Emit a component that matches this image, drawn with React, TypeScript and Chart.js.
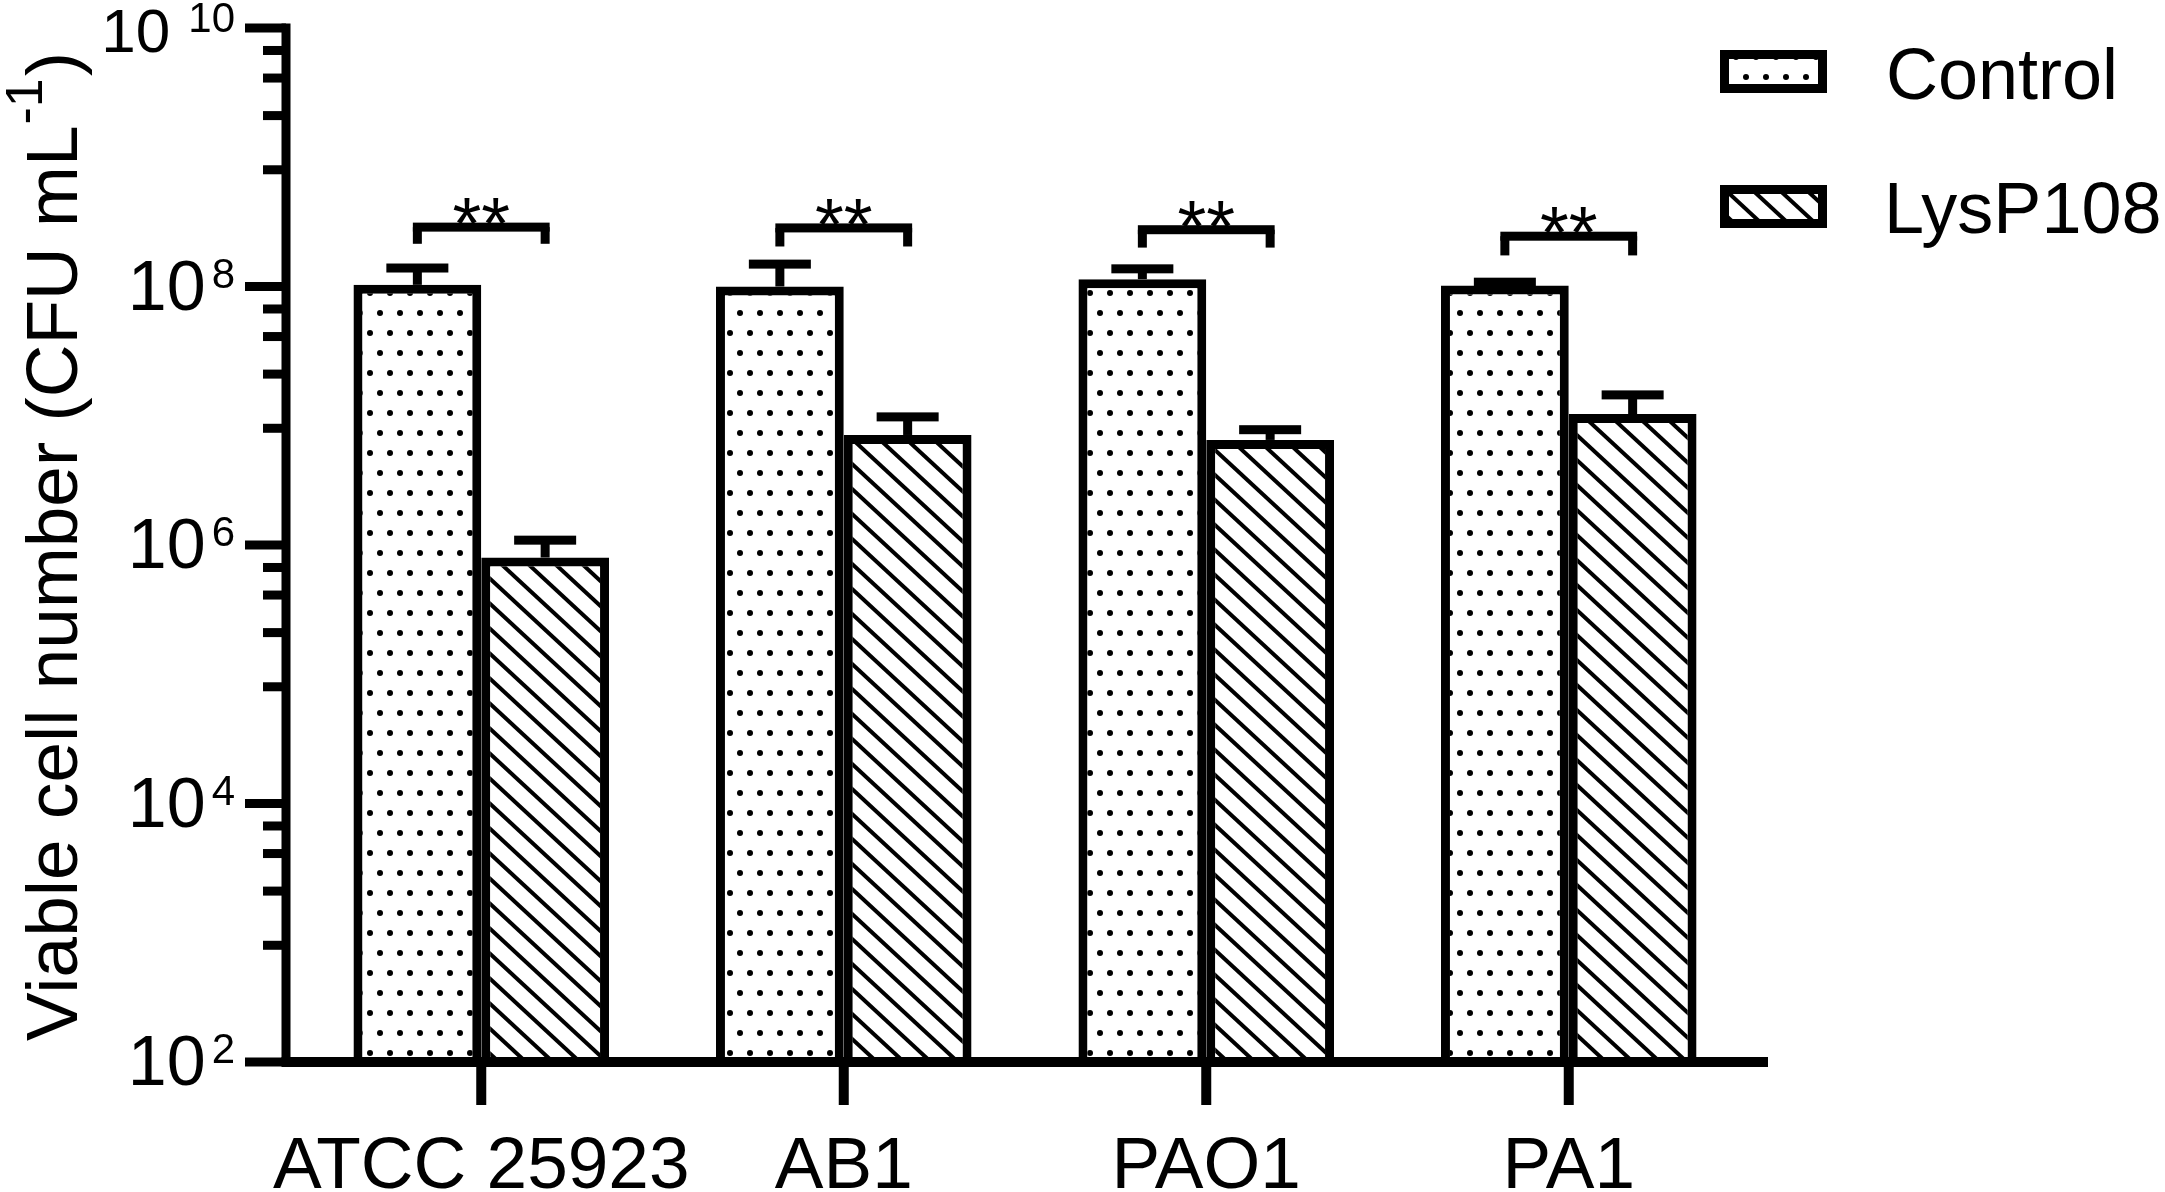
import { useEffect, useRef } from 'react';
import { Chart, type Plugin } from 'chart.js/auto';

const W = 2165;
const H = 1192;
const FAMILY = '"Liberation Sans", Arial, Helvetica, sans-serif';
const font = (px: number) => `${px}px ${FAMILY}`;

// values (CFU per mL)
const categories = ['ATCC 25923', 'AB1', 'PAO1', 'PA1'];
const controlMean = [1.03e8, 1.0e8, 1.14e8, 1.02e8];
const controlSD = [0.36e8, 0.49e8, 0.23e8, 0.06e8];
const lysMean = [8.0e5, 7.1e6, 6.5e6, 1.03e7];
const lysSD = [2.9e5, 2.7e6, 1.3e6, 4.2e6];

// significance brackets: top line and bottom of the legs
const bracketTop = [2.88e8, 2.84e8, 2.75e8, 2.45e8];
const bracketLeg = [2.14e8, 2.04e8, 2.0e8, 1.74e8];
const bracketText = ['**', '**', '**', '**'];

const majorTicks = [1e2, 1e4, 1e6, 1e8, 1e10];
const minorTickFactors = [0.67, 0.41, 0.21, 0.08];

const seriesNames = ['Control', 'LysP108'];

function makeDots(): CanvasPattern | string {
  const c = document.createElement('canvas');
  c.width = 20;
  c.height = 40;
  const g = c.getContext('2d');
  if (!g) return '#fff';
  g.fillStyle = '#fff';
  g.fillRect(0, 0, 20, 40);
  g.fillStyle = '#000';
  for (const [x, y] of [[10, 13], [0, 33], [20, 33]]) {
    g.beginPath();
    g.arc(x, y, 3, 0, Math.PI * 2);
    g.fill();
  }
  return g.createPattern(c, 'repeat') ?? '#fff';
}

function makeHatch(): CanvasPattern | string {
  const w = 27;
  const h = 25;
  const c = document.createElement('canvas');
  c.width = w;
  c.height = h;
  const g = c.getContext('2d');
  if (!g) return '#fff';
  g.fillStyle = '#fff';
  g.fillRect(0, 0, w, h);
  g.strokeStyle = '#000';
  g.lineWidth = 4;
  for (const k of [-1, 0, 1]) {
    g.beginPath();
    g.moveTo(k * w - w * 0.5, -h * 0.5);
    g.lineTo(k * w + w * 1.5, h * 1.5);
    g.stroke();
  }
  return g.createPattern(c, 'repeat') ?? '#fff';
}

export default function App() {
  const canvasRef = useRef<HTMLCanvasElement | null>(null);

  useEffect(() => {
    document.body.style.margin = '0';
    document.body.style.overflow = 'hidden';
    if (!canvasRef.current) return;

    const dots = makeDots();
    const hatch = makeHatch();

    const overlay: Plugin<'bar'> = {
      id: 'overlay',
      afterDatasetsDraw(chart) {
        const { ctx } = chart;
        const y = chart.scales.y;
        const metaC = chart.getDatasetMeta(0);
        const metaL = chart.getDatasetMeta(1);
        ctx.save();
        ctx.fillStyle = '#000';

        // upper error bars
        const drawErr = (xc: number, mean: number, sd: number) => {
          const yTop = y.getPixelForValue(mean);
          const yCap = y.getPixelForValue(mean + sd);
          ctx.fillRect(xc - 4.5, yCap, 9, yTop - yCap);
          ctx.fillRect(xc - 31, yCap - 4.5, 62, 9);
        };
        categories.forEach((_, i) => {
          drawErr(metaC.data[i].x, controlMean[i], controlSD[i]);
          drawErr(metaL.data[i].x, lysMean[i], lysSD[i]);
        });

        // brackets with stars
        categories.forEach((_, i) => {
          const xl = metaC.data[i].x;
          const xr = metaL.data[i].x;
          const yb = y.getPixelForValue(bracketTop[i]);
          const yl = y.getPixelForValue(bracketLeg[i]);
          ctx.fillRect(xl - 4.5, yb - 4.5, xr - xl + 9, 9);
          ctx.fillRect(xl - 4.5, yb, 9, yl - yb);
          ctx.fillRect(xr - 4.5, yb, 9, yl - yb);
          ctx.font = font(74);
          ctx.textAlign = 'center';
          ctx.textBaseline = 'alphabetic';
          ctx.fillText(bracketText[i], (xl + xr) / 2, yb + 22);
        });
        ctx.restore();
      },
      afterDraw(chart) {
        const { ctx, chartArea } = chart;
        const x = chart.scales.x;
        const y = chart.scales.y;
        const axisX = chartArea.left - 14;
        const bottom = chartArea.bottom;
        ctx.save();
        ctx.fillStyle = '#000';

        // axis lines
        ctx.fillRect(axisX - 4.5, chartArea.top - 4.5, 9, bottom - chartArea.top + 4.5);
        ctx.fillRect(axisX - 4.5, bottom - 5, chartArea.right + 18 - (axisX - 4.5), 10);

        // y ticks
        majorTicks.forEach((m, i) => {
          const py = y.getPixelForValue(m);
          ctx.fillRect(axisX - 41, py - 4.5, 41, 9);
          if (i > 0) {
            minorTickFactors.forEach((f) => {
              const pm = y.getPixelForValue(m * f);
              ctx.fillRect(axisX - 23, pm - 4.5, 23, 9);
            });
          }
        });

        // y tick labels 10^n
        ctx.textAlign = 'right';
        ctx.textBaseline = 'alphabetic';
        majorTicks.forEach((m, i) => {
          const py = y.getPixelForValue(m);
          const exp = String(Math.round(Math.log10(m)));
          const isTop = i === majorTicks.length - 1;
          const supRight = 235;
          ctx.font = font(42);
          ctx.fillText(exp, supRight, py + (isTop ? 4 : 1));
          const supW = ctx.measureText(exp).width;
          ctx.font = font(isTop ? 62 : 70);
          ctx.fillText('10', supRight - supW - (isTop ? 18 : 6), py + (isTop ? 24 : 23));
        });

        // x ticks and labels
        ctx.textAlign = 'center';
        ctx.font = font(73);
        categories.forEach((c, i) => {
          const px = x.getPixelForValue(i);
          ctx.fillRect(px - 5, bottom, 10, 43);
          ctx.fillText(c, px, 1188);
        });

        // y axis title
        ctx.save();
        ctx.translate(77, 1041);
        ctx.rotate(-Math.PI / 2);
        ctx.textAlign = 'left';
        ctx.font = font(73);
        const main = 'Viable cell number (CFU mL';
        ctx.fillText(main, 0, 0);
        let cx = ctx.measureText(main).width;
        ctx.font = font(52);
        ctx.fillText('-1', cx + 1, -35);
        cx += ctx.measureText('-1').width + 3;
        ctx.font = font(73);
        ctx.fillText(')', cx, 0);
        ctx.restore();

        // legend
        const boxes = [
          { fill: dots, top: 50, text: seriesNames[0], base: 99, tx: 1886, ox: 1736, oy: 64 },
          { fill: hatch, top: 185, text: seriesNames[1], base: 233, tx: 1884, ox: 1720, oy: 185 },
        ];
        boxes.forEach((b) => {
          ctx.save();
          ctx.translate(b.ox, b.oy);
          ctx.fillStyle = b.fill;
          ctx.fillRect(1720 - b.ox, b.top - b.oy, 107, 43);
          ctx.restore();
          ctx.strokeStyle = '#000';
          ctx.lineWidth = 9;
          ctx.strokeRect(1724.5, b.top + 4.5, 98, 34);
          ctx.fillStyle = '#000';
          ctx.textAlign = 'left';
          ctx.font = font(72);
          ctx.fillText(b.text, b.tx, b.base);
        });

        ctx.restore();
      },
    };

    const chart = new Chart(canvasRef.current, {
      type: 'bar',
      data: {
        labels: categories,
        datasets: [
          {
            label: seriesNames[0],
            data: controlMean,
            backgroundColor: dots,
            borderColor: '#000',
            borderWidth: 9,
            categoryPercentage: 0.705,
            barPercentage: 1,
          },
          {
            label: seriesNames[1],
            data: lysMean,
            backgroundColor: hatch,
            borderColor: '#000',
            borderWidth: 9,
            categoryPercentage: 0.705,
            barPercentage: 1,
          },
        ],
      },
      options: {
        animation: false,
        responsive: false,
        devicePixelRatio: 1,
        layout: { padding: { left: 300, right: W - 1750, top: 28, bottom: H - 1062 } },
        plugins: {
          legend: { display: false },
          tooltip: { enabled: false },
        },
        scales: {
          x: { display: false, offset: true },
          y: { type: 'logarithmic', display: false, min: 1e2, max: 1e10 },
        },
      },
      plugins: [overlay],
    });

    return () => {
      chart.destroy();
    };
  }, []);

  return <canvas ref={canvasRef} width={W} height={H} style={{ display: 'block', background: '#fff' }} />;
}
